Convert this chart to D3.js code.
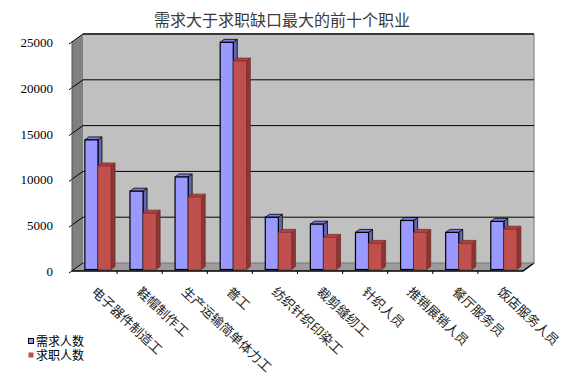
<!DOCTYPE html>
<html>
<head>
<meta charset="utf-8">
<script src="https://cdn.jsdelivr.net/npm/d3@7"></script>
<style>
  body { margin: 0; background: #fff; }
  svg { display: block; }
</style>
</head>
<body>
<div id="chart"></div>
<script>
// data
var categories = ["电子器件制造工", "鞋帽制作工", "生产运输简单体力工", "普工", "纺织针织印染工",
    "裁剪缝纫工", "针织人员", "推销展销人员", "餐厅服务员", "饭店服务人员"];
var demand = [14150, 8550, 10100, 24800, 5700, 4950, 4050, 5350, 4050, 5250];
var seekers = [11300, 6150, 7900, 22750, 4050, 3500, 2850, 4050, 2850, 4400];
var seriesNames = ["需求人数", "求职人数"];
var yTicks = [0, 5000, 10000, 15000, 20000, 25000];

var width = 582, height = 384;
var depthX = 11, depthY = -8;   // offset of the back wall
var cjk = "'Noto Sans CJK SC', sans-serif";

var svg = d3.select("#chart").append("svg")
    .attr("width", width)
    .attr("height", height);

// scales on the front plane
var x = d3.scaleBand().domain(categories).range([72, 523]);
var y = d3.scaleLinear().domain([0, 25000]).range([271, 42]);

var x0 = x.range()[0], x1 = x.range()[1];
var yTop = y(25000), yBot = y(0);

// title
svg.append("text")
    .attr("x", 282)
    .attr("y", 26)
    .attr("text-anchor", "middle")
    .style("font-family", cjk)
    .style("font-size", "16px")
    .style("fill", "#3a3a3a")
    .text("需求大于求职缺口最大的前十个职业");

// back wall
svg.append("rect")
    .attr("x", x0 + depthX)
    .attr("y", yTop + depthY)
    .attr("width", x1 - x0)
    .attr("height", yBot - yTop)
    .attr("fill", "#c0c0c0");
svg.append("line")
    .attr("x1", x0 + depthX).attr("x2", x1 + depthX)
    .attr("y1", yTop + depthY).attr("y2", yTop + depthY)
    .attr("stroke", "#707070").attr("stroke-width", 2);
svg.append("line")
    .attr("x1", x1 + depthX).attr("x2", x1 + depthX)
    .attr("y1", yTop + depthY).attr("y2", yBot + depthY)
    .attr("stroke", "#9a9a9a").attr("stroke-width", 1.5);

// left side wall
svg.append("polygon")
    .attr("points", [[x0, yBot], [x0, yTop], [x0 + depthX, yTop + depthY], [x0 + depthX, yBot + depthY]].join(" "))
    .attr("fill", "#808080");

// floor
svg.append("polygon")
    .attr("points", [[x0, yBot], [x1, yBot], [x1 + depthX, yBot + depthY], [x0 + depthX, yBot + depthY]].join(" "))
    .attr("fill", "#9c9c9c");

// gridlines on back wall and side wall
var grid = svg.append("g");
yTicks.slice(1).forEach(function(t) {
    grid.append("line")
        .attr("x1", x0 + depthX).attr("x2", x1 + depthX)
        .attr("y1", y(t) + depthY).attr("y2", y(t) + depthY)
        .attr("stroke", "#000").attr("stroke-width", 1);
});
yTicks.forEach(function(t) {
    grid.append("line")
        .attr("x1", x0 - 3).attr("x2", x0 + depthX)
        .attr("y1", y(t) + 2).attr("y2", y(t) + depthY)
        .attr("stroke", "#000").attr("stroke-width", 1);
});

// front edges
svg.append("line")
    .attr("x1", x0).attr("x2", x0).attr("y1", yTop).attr("y2", yBot)
    .attr("stroke", "#555");
svg.append("polyline")
    .attr("points", [[x0, yBot], [x1, yBot], [x1 + depthX, yBot + depthY]].join(" "))
    .attr("fill", "none").attr("stroke", "#000").attr("stroke-width", 1.5);
svg.append("line")
    .attr("x1", x0 + depthX).attr("x2", x1 + depthX)
    .attr("y1", yBot + depthY).attr("y2", yBot + depthY)
    .attr("stroke", "#777");
svg.selectAll(".xtick")
    .data(categories.slice(1))
    .enter().append("line")
    .attr("class", "xtick")
    .attr("x1", function(d) { return x(d); })
    .attr("x2", function(d) { return x(d); })
    .attr("y1", yBot).attr("y2", yBot + 3)
    .attr("stroke", "#000");

// y axis labels
svg.selectAll(".ylab")
    .data(yTicks)
    .enter().append("text")
    .attr("class", "ylab")
    .attr("x", 53)
    .attr("y", function(d) { return y(d) + 5; })
    .attr("text-anchor", "end")
    .style("font-family", "'Liberation Serif', serif")
    .style("font-size", "13px")
    .style("fill", "#000")
    .text(function(d) { return d; });

// bars
var bw = x.bandwidth() * 0.29;
var frontDx = 1.6, frontDy = -1.5;   // bar front sits slightly behind the floor edge
var sideDx = 4, sideDy = -3;
var series = [
    { name: seriesNames[0], values: demand, front: "#9999ff", top: "#7b7be0", side: "#6565b4", stroke: "#000" },
    { name: seriesNames[1], values: seekers, front: "#c0504d", top: "#b0413e", side: "#8c3634", stroke: "#7a2e2c" }
];

var barsG = svg.append("g");
categories.forEach(function(c, i) {
    series.forEach(function(s, k) {
        var bx = x(c) + x.bandwidth() * 0.25 + frontDx + k * bw;
        var by = y(s.values[i]) + frontDy;
        var bb = y(0) + frontDy;
        var g = barsG.append("g");
        // side face
        g.append("polygon")
            .attr("points", [[bx + bw, bb], [bx + bw, by], [bx + bw + sideDx, by + sideDy], [bx + bw + sideDx, bb + sideDy]].join(" "))
            .attr("fill", s.side)
            .attr("stroke", s.stroke).attr("stroke-width", 0.8).attr("stroke-linejoin", "round");
        // top face
        g.append("polygon")
            .attr("points", [[bx, by], [bx + bw, by], [bx + bw + sideDx, by + sideDy], [bx + sideDx, by + sideDy]].join(" "))
            .attr("fill", s.top)
            .attr("stroke", s.stroke).attr("stroke-width", 0.8).attr("stroke-linejoin", "round");
        // front face
        g.append("rect")
            .attr("x", bx).attr("y", by)
            .attr("width", bw).attr("height", bb - by)
            .attr("fill", s.front)
            .attr("stroke", s.stroke).attr("stroke-width", k == 0 ? 1.2 : 0.6);
    });
});

// category labels, rotated
svg.selectAll(".xlab")
    .data(categories)
    .enter().append("text")
    .attr("class", "xlab")
    .attr("transform", function(d) {
        return "translate(" + (x(d) + x.bandwidth() / 2 - 4) + "," + 293 + ") rotate(43)";
    })
    .style("font-family", cjk)
    .style("font-size", "13px")
    .style("fill", "#222")
    .text(function(d) { return d; });

// legend
var legend = svg.append("g").attr("transform", "translate(28,338)");
series.forEach(function(s, k) {
    var row = legend.append("g").attr("transform", "translate(0," + (k * 14) + ")");
    row.append("rect")
        .attr("x", 0.5).attr("y", 0.5)
        .attr("width", 5).attr("height", 5)
        .attr("fill", s.front)
        .attr("stroke", k == 0 ? "#000" : "none");
    row.append("text")
        .attr("x", 8).attr("y", 7.5)
        .style("font-family", cjk)
        .style("font-size", "12px")
        .style("fill", "#000")
        .text(s.name);
});
</script>
</body>
</html>
